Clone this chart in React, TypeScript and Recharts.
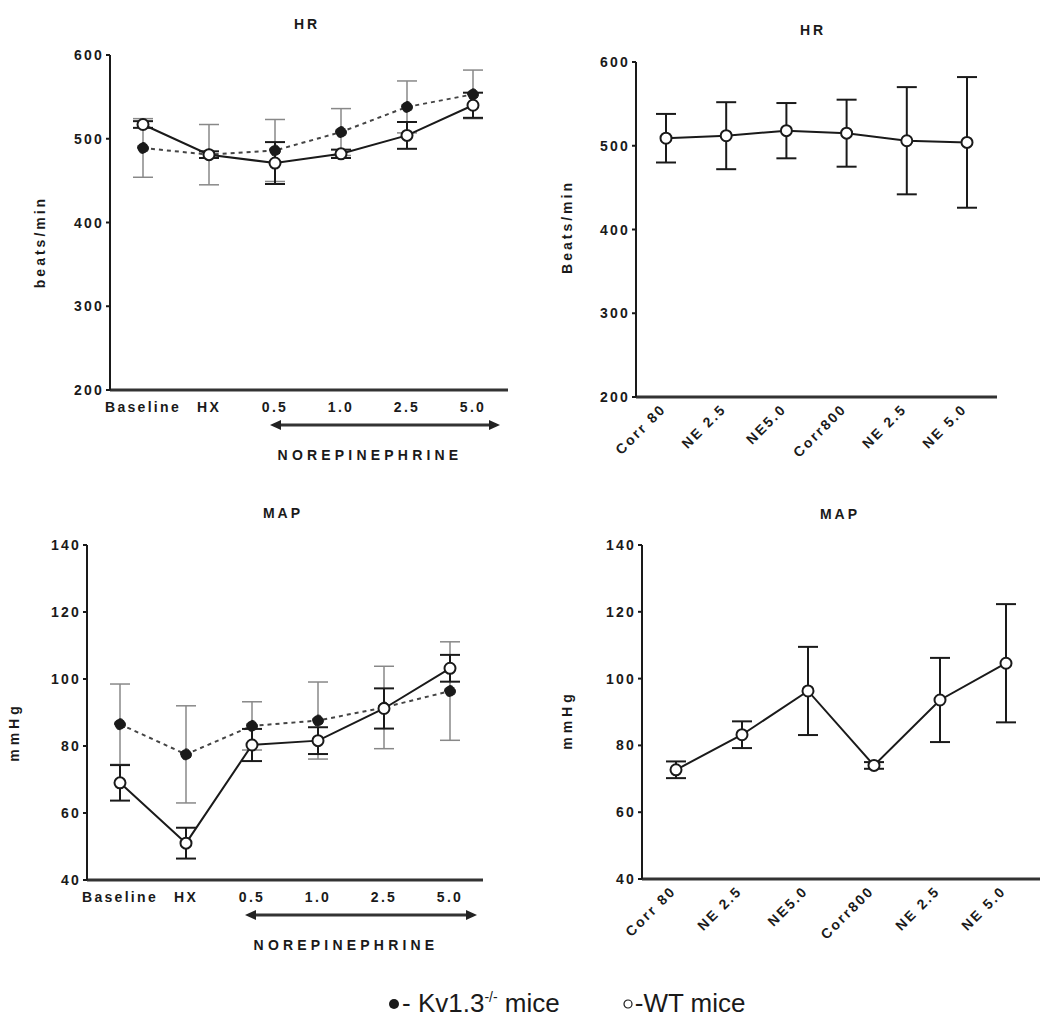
import React from 'react';
import { LineChart, Line, XAxis, YAxis, ErrorBar } from 'recharts';

// top-left / bottom-left: Kv1.3-/- vs WT
const doseLabels = ['Baseline', 'HX', '0.5', '1.0', '2.5', '5.0'];
const hrKvMean = [489, 481, 486, 508, 538, 553];
const hrKvErr = [35, 36, 37, 28, 31, 29];
const hrWtMean = [517, 481, 471, 482, 504, 540];
const hrWtErr = [4, 4, 25, 5, 16, 15];

const mapKvMean = [86.5, 77.5, 86, 87.6, 91.5, 96.4];
const mapKvErr = [12, 14.5, 7.2, 11.5, 12.3, 14.7];
const mapWtMean = [69, 51, 80.3, 81.6, 91.2, 103.2];
const mapWtErr = [5.3, 4.6, 4.8, 4, 6, 4];

// top-right / bottom-right: WT only
const corrLabels = ['Corr 80', 'NE 2.5', 'NE5.0', 'Corr800', 'NE 2.5', 'NE 5.0'];
const hrCorrMean = [509, 512, 518, 515, 506, 504];
const hrCorrErr = [29, 40, 33, 40, 64, 78];
const mapCorrMean = [72.7, 83.2, 96.3, 74, 93.6, 104.6];
const mapCorrErr = [2.5, 4, 13.2, 1, 12.6, 17.7];

const hrTicks = [200, 300, 400, 500, 600];
const mapTicks = [40, 60, 80, 100, 120, 140];

const FONT = '"Liberation Sans", Arial, sans-serif';
const INK = '#1a1a1a';

const build = (mean: number[], err: number[], mean2?: number[], err2?: number[]) =>
  mean.map((m, i) => ({
    idx: i,
    a: m,
    aErr: err[i],
    b: mean2 ? mean2[i] : undefined,
    bErr: err2 ? err2[i] : undefined,
  }));

const YTick = (props: any) => {
  const { x, y, payload } = props;
  return (
    <text x={x} y={y} dy={5} textAnchor="end" fontFamily={FONT} fontWeight={700} fontSize={14}
      style={{ letterSpacing: '2.2px' }} fill={INK}>
      {payload.value}
    </text>
  );
};

const makeFlatTick = (labels: string[]) => (props: any) => {
  const { x, y, payload } = props;
  return (
    <text x={x} y={y} dy={22} textAnchor="middle" fontFamily={FONT} fontWeight={700} fontSize={14}
      style={{ letterSpacing: '2.3px' }} fill={INK}>
      {labels[payload.value]}
    </text>
  );
};

const makeSlantTick = (labels: string[]) => (props: any) => {
  const { x, y, payload } = props;
  return (
    <g transform={`translate(${x - 2},${y + 10})`}>
      <text x={0} y={0} dy={4} textAnchor="end" transform="rotate(-45)" fontFamily={FONT} fontWeight={700}
        fontSize={14} style={{ letterSpacing: '2.2px' }} fill={INK}>
        {labels[payload.value]}
      </text>
    </g>
  );
};

type PanelProps = {
  left: number;
  top: number;
  data: any[];
  labels: string[];
  slant: boolean;
  domain: [number, number];
  ticks: number[];
  margin: { top: number; right: number; bottom: number; left: number };
  yWidth: number;
  pad: { left: number; right: number };
  twoSeries: boolean;
};

const Panel = ({ left, top, data, labels, slant, domain, ticks, margin, yWidth, pad, twoSeries }: PanelProps) => (
  <div style={{ position: 'absolute', left, top }}>
    <LineChart width={530} height={480} data={data} margin={margin}>
      <XAxis
        dataKey="idx"
        type="category"
        padding={pad}
        tickLine={false}
        tickSize={0}
        tickMargin={0}
        axisLine={{ stroke: '#333', strokeWidth: 3 }}
        tick={slant ? makeSlantTick(labels) : makeFlatTick(labels)}
        interval={0}
        height={30}
      />
      <YAxis
        type="number"
        domain={domain}
        ticks={ticks}
        width={yWidth}
        tickSize={4}
        tickMargin={2}
        axisLine={{ stroke: INK, strokeWidth: 2 }}
        tickLine={{ stroke: INK, strokeWidth: 2 }}
        tick={<YTick />}
        allowDataOverflow
      />
      {twoSeries && (
        <Line
          dataKey="b"
          stroke="#444"
          strokeWidth={2}
          strokeDasharray="4 4"
          dot={{ r: 5.5, fill: INK, stroke: INK, strokeWidth: 1 }}
          isAnimationActive={false}
        >
          <ErrorBar dataKey="bErr" width={10} stroke="#888" strokeWidth={1.5} direction="y" isAnimationActive={false} />
        </Line>
      )}
      <Line
        dataKey="a"
        stroke={INK}
        strokeWidth={2}
        dot={{ r: 5.5, fill: '#fff', stroke: INK, strokeWidth: 2 }}
        isAnimationActive={false}
      >
        <ErrorBar dataKey="aErr" width={10} stroke={INK} strokeWidth={2} direction="y" isAnimationActive={false} />
      </Line>
    </LineChart>
  </div>
);

const textStyle: React.CSSProperties = {
  position: 'absolute',
  fontFamily: FONT,
  fontWeight: 700,
  fontSize: 14,
  color: INK,
  letterSpacing: '3px',
  whiteSpace: 'nowrap',
  transform: 'translate(-50%, -50%)',
};

const Label = ({ x, y, text, rotate, spacing }: { x: number; y: number; text: string; rotate?: boolean; spacing?: number }) => (
  <div
    style={{
      ...textStyle,
      left: x,
      top: y,
      letterSpacing: spacing !== undefined ? `${spacing}px` : textStyle.letterSpacing,
      transform: rotate ? 'translate(-50%, -50%) rotate(-90deg)' : textStyle.transform,
    }}
  >
    {text}
  </div>
);

const Arrow = ({ x1, x2, y }: { x1: number; x2: number; y: number }) => (
  <svg style={{ position: 'absolute', left: 0, top: 0 }} width={1050} height={1026} pointerEvents="none">
    <line x1={x1 + 8} x2={x2 - 8} y1={y} y2={y} stroke="#333" strokeWidth={3} />
    <polygon points={`${x1},${y} ${x1 + 11},${y - 5} ${x1 + 11},${y + 5}`} fill="#222" />
    <polygon points={`${x2},${y} ${x2 - 11},${y - 5} ${x2 - 11},${y + 5}`} fill="#222" />
  </svg>
);

const App = () => {
  const hrDose = build(hrWtMean, hrWtErr, hrKvMean, hrKvErr);
  const mapDose = build(mapWtMean, mapWtErr, mapKvMean, mapKvErr);
  const hrCorr = build(hrCorrMean, hrCorrErr);
  const mapCorr = build(mapCorrMean, mapCorrErr);

  return (
    <div style={{ position: 'absolute', left: 0, top: 0, width: 1050, height: 1026, background: '#fff', overflow: 'hidden' }}>
      <Panel left={0} top={0} data={hrDose} labels={doseLabels} slant={false} domain={[200, 600]} ticks={hrTicks}
        margin={{ top: 55, right: 22, bottom: 60, left: 0 }} yWidth={110} pad={{ left: 33, right: 35 }} twoSeries />
      <Panel left={520} top={0} data={hrCorr} labels={corrLabels} slant domain={[200, 600]} ticks={hrTicks}
        margin={{ top: 62, right: 53, bottom: 53, left: 0 }} yWidth={116} pad={{ left: 30, right: 30 }} twoSeries={false} />
      <Panel left={0} top={490} data={mapDose} labels={doseLabels} slant={false} domain={[40, 140]} ticks={mapTicks}
        margin={{ top: 55, right: 47, bottom: 60, left: 0 }} yWidth={87} pad={{ left: 33, right: 33 }} twoSeries />
      <Panel left={520} top={490} data={mapCorr} labels={corrLabels} slant domain={[40, 140]} ticks={mapTicks}
        margin={{ top: 55, right: 10, bottom: 61, left: 0 }} yWidth={122} pad={{ left: 34, right: 34 }} twoSeries={false} />

      <Label x={307} y={24} text="HR" />
      <Label x={813} y={30} text="HR" />
      <Label x={283} y={513} text="MAP" />
      <Label x={840} y={514} text="MAP" />

      <Label x={40} y={242} text="beats/min" rotate />
      <Label x={567} y={227} text="Beats/min" rotate />
      <Label x={14} y={732} text="mmHg" rotate spacing={4} />
      <Label x={567} y={720} text="mmHg" rotate spacing={4} />

      <Arrow x1={270} x2={500} y={425} />
      <Arrow x1={245} x2={477} y={915} />
      <Label x={370} y={455} text="NOREPINEPHRINE" spacing={4.2} />
      <Label x={346} y={945} text="NOREPINEPHRINE" spacing={4.2} />

      <div style={{ position: 'absolute', left: 388, top: 988, fontFamily: FONT, fontSize: 26, color: INK, whiteSpace: 'nowrap', display: 'flex', alignItems: 'center' }}>
        <svg width={12} height={12} style={{ marginRight: 2 }}><circle cx={6} cy={6} r={5} fill={INK} /></svg>
        <span>- Kv1.3<sup style={{ fontSize: 14 }}>-/-</sup> mice</span>
        <svg width={12} height={12} style={{ marginLeft: 62, marginRight: 1 }}><circle cx={6} cy={6} r={4} fill="#fff" stroke={INK} strokeWidth={1.2} /></svg>
        <span>-WT mice</span>
      </div>
    </div>
  );
};

export default App;
